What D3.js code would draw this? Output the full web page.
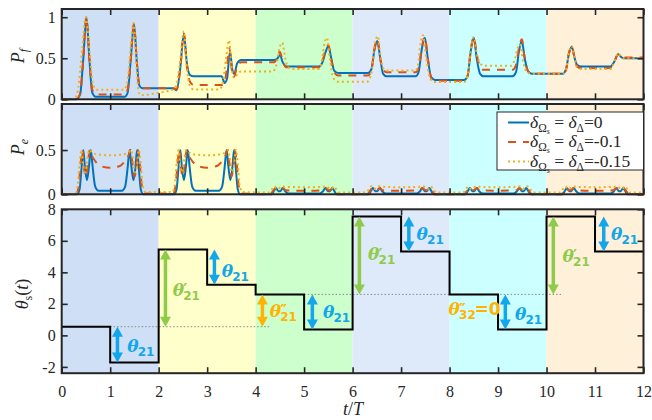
<!DOCTYPE html>
<html><head><meta charset="utf-8">
<script src="https://cdn.jsdelivr.net/npm/d3@7"></script>
<style>
body{margin:0;background:#fff}
svg text{font-family:"Liberation Serif","DejaVu Serif",serif;fill:#262626}
</style></head><body>
<svg width="652" height="420"></svg>
<script>
// ---- data ----
var xTicks = [0,1,2,3,4,5,6,7,8,9,10,11,12];
var bandStarts = [0,2,4,6,8,10];
var stepT = [0,1,2,3,4,5,6,7,8,9,10,11];
var thetaS = [0.55,-1.72,5.45,3.22,2.6,0.38,7.55,5.32,2.6,0.38,7.55,5.32];
var legendVals = ["0","-0.1","-0.15"];

// P_f, delta = 0
var pfA = [[0,0],[0.3,0],[0.38,0.06],[0.44,0.45],[0.51,1.0],[0.57,0.5],[0.63,0.08],[0.7,0.03],
 [1.3,0.03],[1.36,0.08],[1.42,0.45],[1.49,0.92],[1.55,0.45],[1.6,0.17],[1.66,0.135],
 [2.3,0.135],[2.37,0.11],[2.44,0.35],[2.52,0.8],[2.58,0.45],[2.64,0.3],[2.72,0.28],
 [3.3,0.28],[3.36,0.2],[3.41,0.25],[3.47,0.58],[3.52,0.36],[3.56,0.31],[3.62,0.44],[3.7,0.48],
 [4.38,0.48],[4.44,0.49],[4.5,0.54],[4.56,0.45],[4.64,0.4],
 [5.3,0.4],[5.37,0.44],[5.44,0.57],[5.5,0.645],[5.56,0.5],[5.62,0.35],[5.7,0.32],
 [6.32,0.32],[6.39,0.37],[6.45,0.6],[6.51,0.71],[6.57,0.5],[6.63,0.31],[6.7,0.28],
 [7.3,0.28],[7.36,0.33],[7.43,0.62],[7.49,0.75],[7.55,0.5],[7.62,0.27],[7.7,0.235],
 [8.3,0.235],[8.37,0.28],[8.44,0.6],[8.5,0.75],[8.56,0.5],[8.63,0.31],[8.7,0.28],
 [9.3,0.28],[9.37,0.33],[9.43,0.58],[9.49,0.71],[9.55,0.5],[9.62,0.34],[9.7,0.31],
 [10.33,0.31],[10.4,0.36],[10.46,0.55],[10.52,0.64],[10.58,0.5],[10.63,0.42],[10.7,0.4],
 [11.32,0.4],[11.38,0.44],[11.48,0.55],[11.53,0.52],[11.58,0.5],[12,0.5]];
// P_f, delta = -0.1
var pfB = [[0,0],[0.3,0],[0.38,0.07],[0.44,0.45],[0.51,1.0],[0.57,0.5],[0.63,0.12],[0.7,0.06],
 [1.3,0.06],[1.36,0.12],[1.42,0.45],[1.49,0.92],[1.55,0.45],[1.6,0.17],[1.66,0.135],
 [2.3,0.135],[2.37,0.12],[2.44,0.35],[2.52,0.8],[2.58,0.42],[2.64,0.22],[2.72,0.175],
 [3.3,0.175],[3.36,0.2],[3.41,0.4],[3.46,0.62],[3.51,0.35],[3.55,0.27],[3.62,0.4],[3.7,0.45],
 [4.38,0.45],[4.44,0.5],[4.5,0.58],[4.56,0.46],[4.64,0.39],
 [5.3,0.39],[5.37,0.44],[5.44,0.6],[5.5,0.66],[5.56,0.48],[5.62,0.33],[5.7,0.29],
 [6.32,0.29],[6.39,0.36],[6.45,0.62],[6.51,0.73],[6.57,0.5],[6.63,0.36],[6.7,0.33],
 [7.3,0.33],[7.36,0.38],[7.43,0.64],[7.49,0.76],[7.55,0.5],[7.62,0.26],[7.7,0.225],
 [8.3,0.225],[8.37,0.28],[8.44,0.62],[8.5,0.76],[8.56,0.55],[8.63,0.39],[8.7,0.36],
 [9.3,0.36],[9.37,0.42],[9.43,0.62],[9.49,0.73],[9.55,0.5],[9.62,0.34],[9.7,0.31],
 [10.33,0.31],[10.4,0.36],[10.46,0.56],[10.52,0.65],[10.58,0.5],[10.63,0.4],[10.7,0.38],
 [11.32,0.38],[11.38,0.43],[11.48,0.55],[11.53,0.53],[11.58,0.51],[12,0.51]];
// P_f, delta = -0.15
var pfC = [[0,0],[0.25,0],[0.33,0.1],[0.42,0.6],[0.5,1.0],[0.57,0.6],[0.64,0.2],[0.72,0.115],
 [1.28,0.115],[1.35,0.2],[1.42,0.6],[1.48,0.93],[1.54,0.45],[1.58,0.12],[1.63,0.05],
 [2.0,0.08],[2.3,0.12],[2.37,0.18],[2.44,0.45],[2.52,0.83],[2.58,0.4],[2.64,0.17],[2.72,0.12],
 [3.25,0.12],[3.32,0.2],[3.39,0.5],[3.45,0.72],[3.5,0.4],[3.56,0.26],[3.63,0.31],[3.7,0.34],
 [4.35,0.34],[4.42,0.4],[4.49,0.62],[4.55,0.69],[4.61,0.5],[4.67,0.39],[4.74,0.37],
 [5.3,0.37],[5.36,0.45],[5.42,0.68],[5.47,0.75],[5.53,0.5],[5.6,0.26],[5.7,0.215],
 [6.3,0.215],[6.38,0.3],[6.45,0.65],[6.52,0.77],[6.58,0.5],[6.63,0.38],[6.7,0.35],
 [7.3,0.35],[7.35,0.42],[7.4,0.68],[7.45,0.78],[7.52,0.5],[7.6,0.25],[7.7,0.21],
 [8.3,0.21],[8.37,0.28],[8.44,0.62],[8.5,0.76],[8.56,0.56],[8.64,0.43],[8.72,0.41],
 [9.28,0.41],[9.35,0.5],[9.41,0.63],[9.45,0.67],[9.52,0.45],[9.6,0.33],[9.7,0.31],
 [10.33,0.31],[10.4,0.36],[10.46,0.56],[10.52,0.65],[10.58,0.5],[10.63,0.39],[10.7,0.37],
 [11.32,0.37],[11.38,0.43],[11.48,0.56],[11.53,0.53],[11.58,0.5],[12,0.5]];

// P_e, delta = 0
var peA = [[0,0],[0.32,0],[0.37,0.06],[0.41,0.3],[0.445,0.5],[0.48,0.3],[0.52,0.16],[0.56,0.3],[0.6,0.5],[0.64,0.3],[0.69,0.09],[0.76,0.04],
 [1.24,0.04],[1.31,0.09],[1.36,0.3],[1.4,0.5],[1.44,0.3],[1.48,0.16],[1.52,0.3],[1.555,0.5],[1.59,0.3],[1.63,0.06],[1.68,0],
 [2.32,0],[2.37,0.06],[2.41,0.3],[2.445,0.5],[2.48,0.3],[2.52,0.16],[2.56,0.3],[2.6,0.5],[2.64,0.3],[2.69,0.09],[2.76,0.04],
 [3.24,0.04],[3.31,0.09],[3.36,0.3],[3.4,0.5],[3.44,0.3],[3.48,0.16],[3.52,0.3],[3.555,0.5],[3.59,0.3],[3.63,0.06],[3.68,0],
 [4.33,0],[4.38,0.04],[4.42,0.07],[4.47,0.035],[4.51,0.035],[4.56,0.07],[4.61,0.035],[4.68,0.01],
 [5.32,0.01],[5.39,0.035],[5.44,0.07],[5.49,0.035],[5.53,0.035],[5.58,0.07],[5.62,0.04],[5.67,0],
 [6.33,0],[6.38,0.04],[6.42,0.07],[6.47,0.035],[6.51,0.035],[6.56,0.07],[6.61,0.035],[6.68,0.01],
 [7.32,0.01],[7.39,0.035],[7.44,0.07],[7.49,0.035],[7.53,0.035],[7.58,0.07],[7.62,0.04],[7.67,0],
 [8.33,0],[8.38,0.04],[8.42,0.07],[8.47,0.035],[8.51,0.035],[8.56,0.07],[8.61,0.035],[8.68,0.01],
 [9.32,0.01],[9.39,0.035],[9.44,0.07],[9.49,0.035],[9.53,0.035],[9.58,0.07],[9.62,0.04],[9.67,0],
 [10.33,0],[10.38,0.04],[10.42,0.07],[10.47,0.035],[10.51,0.035],[10.56,0.07],[10.61,0.035],[10.68,0.01],
 [11.32,0.01],[11.39,0.035],[11.44,0.07],[11.49,0.035],[11.53,0.035],[11.58,0.07],[11.62,0.04],[11.67,0],[12,0]];
// P_e, delta = -0.1
var peB = [[0,0],[0.3,0],[0.35,0.1],[0.39,0.35],[0.425,0.5],[0.46,0.3],[0.5,0.2],[0.54,0.35],[0.58,0.5],[0.62,0.44],[0.7,0.37],[0.8,0.32],[1.0,0.3],
 [1.2,0.32],[1.3,0.37],[1.38,0.44],[1.42,0.5],[1.46,0.35],[1.5,0.2],[1.54,0.3],[1.575,0.5],[1.61,0.35],[1.65,0.1],[1.7,0.01],
 [2.3,0.01],[2.35,0.1],[2.39,0.35],[2.425,0.5],[2.46,0.3],[2.5,0.2],[2.54,0.35],[2.58,0.5],[2.62,0.44],[2.7,0.37],[2.8,0.32],[3.0,0.3],
 [3.2,0.32],[3.3,0.37],[3.38,0.44],[3.42,0.5],[3.46,0.35],[3.5,0.2],[3.54,0.3],[3.575,0.5],[3.61,0.35],[3.65,0.1],[3.7,0.01],
 [4.3,0],[4.36,0.04],[4.41,0.07],[4.46,0.045],[4.51,0.05],[4.56,0.07],[4.62,0.045],[5.0,0.04],[5.38,0.045],[5.44,0.07],[5.49,0.05],[5.54,0.045],[5.59,0.07],[5.64,0.04],[5.7,0],
 [6.3,0],[6.36,0.04],[6.41,0.07],[6.46,0.045],[6.51,0.05],[6.56,0.07],[6.62,0.045],[7.0,0.04],[7.38,0.045],[7.44,0.07],[7.49,0.05],[7.54,0.045],[7.59,0.07],[7.64,0.04],[7.7,0],
 [8.3,0],[8.36,0.04],[8.41,0.07],[8.46,0.045],[8.51,0.05],[8.56,0.07],[8.62,0.045],[9.0,0.04],[9.38,0.045],[9.44,0.07],[9.49,0.05],[9.54,0.045],[9.59,0.07],[9.64,0.04],[9.7,0],
 [10.3,0],[10.36,0.04],[10.41,0.07],[10.46,0.045],[10.51,0.05],[10.56,0.07],[10.62,0.045],[11.0,0.04],[11.38,0.045],[11.44,0.07],[11.49,0.05],[11.54,0.045],[11.59,0.07],[11.64,0.04],[11.7,0],[12,0]];
// P_e, delta = -0.15
var peC = [[0,0],[0.28,0],[0.33,0.1],[0.37,0.35],[0.41,0.5],[0.45,0.3],[0.49,0.25],[0.53,0.4],[0.57,0.5],[0.63,0.47],[0.75,0.45],[1.0,0.44],
 [1.25,0.45],[1.37,0.47],[1.43,0.5],[1.47,0.4],[1.51,0.25],[1.55,0.3],[1.59,0.5],[1.63,0.35],[1.67,0.1],[1.73,0.025],
 [2.28,0.025],[2.33,0.1],[2.37,0.35],[2.41,0.5],[2.45,0.3],[2.49,0.25],[2.53,0.4],[2.57,0.5],[2.63,0.47],[2.75,0.45],[3.0,0.44],
 [3.25,0.45],[3.37,0.47],[3.43,0.5],[3.47,0.4],[3.51,0.25],[3.55,0.3],[3.59,0.5],[3.63,0.35],[3.67,0.1],[3.73,0.025],
 [4.28,0.02],[4.34,0.06],[4.39,0.09],[4.44,0.06],[4.49,0.07],[4.54,0.09],[4.6,0.085],[5.0,0.08],[5.4,0.085],[5.46,0.09],[5.51,0.07],[5.56,0.06],[5.61,0.09],[5.66,0.06],[5.72,0.02],
 [6.28,0.02],[6.34,0.06],[6.39,0.09],[6.44,0.06],[6.49,0.07],[6.54,0.09],[6.6,0.085],[7.0,0.08],[7.4,0.085],[7.46,0.09],[7.51,0.07],[7.56,0.06],[7.61,0.09],[7.66,0.06],[7.72,0.02],
 [8.28,0.02],[8.34,0.06],[8.39,0.09],[8.44,0.06],[8.49,0.07],[8.54,0.09],[8.6,0.085],[9.0,0.08],[9.4,0.085],[9.46,0.09],[9.51,0.07],[9.56,0.06],[9.61,0.09],[9.66,0.06],[9.72,0.02],
 [10.28,0.02],[10.34,0.06],[10.39,0.09],[10.44,0.06],[10.49,0.07],[10.54,0.09],[10.6,0.085],[11.0,0.08],[11.4,0.085],[11.46,0.09],[11.51,0.07],[11.56,0.06],[11.61,0.09],[11.66,0.06],[11.72,0.02],[12,0.02]];

// arrows in the theta panel: t, from, to, kind, label t, label value, primes
var arrows = [
 [1.15, 0.55, -1.72, "b", 1.35, -0.73, 0],
 [2.14, 5.45, 0.55, "g", 2.29, 2.83, 1],
 [3.15, 5.45, 3.22, "b", 3.30, 4.03, 0],
 [4.14, 2.6, 0.55, "o", 4.29, 1.49, 2],
 [5.17, 2.6, 0.38, "b", 5.39, 1.39, 0],
 [6.14, 7.55, 2.6, "g", 6.32, 5.1, 1],
 [7.16, 7.55, 5.32, "b", 7.32, 6.37, 0],
 [9.15, 2.6, 0.38, "b", 9.35, 1.28, 0],
 [10.14, 7.55, 2.6, "g", 10.33, 4.99, 1],
 [11.18, 7.55, 5.32, "b", 11.33, 6.37, 0]
];
var refLines = [[0.55, 1, 4.3], [2.6, 5, 10.3]];

// ---- drawing ----
var bandColors = ["#cfe0f6","#ffffcc","#ccffcc","#dee9f9","#ccffff","#fff0da"];
var seriesColors = ["#0072bd","#d95319","#edb120"];
var seriesDash = [null,"8,7","2,3"];
var arrowColors = {b:"#12a6ea", g:"#8fcb4a", o:"#ffb300"};
var serif = "'Liberation Serif', 'DejaVu Serif', serif";

var svg = d3.select("svg");
var x = d3.scaleLinear().domain([0,12]).range([61.7,643.5]);
var yPf = d3.scaleLinear().domain([0,1.1]).range([99.3,9]);
var yPe = d3.scaleLinear().domain([0,1.02]).range([194.3,104]);
var yTh = d3.scaleLinear().domain([-2.4,8]).range([373.2,209.3]);

function panel(y) {
  var g = svg.append("g");
  var y0 = y.range()[0], y1 = y.range()[1];
  g.selectAll(".band").data(bandStarts).enter().append("rect")
    .attr("x", function (d) { return x(d); })
    .attr("y", y1)
    .attr("width", function (d) { return x(d + 2) - x(d); })
    .attr("height", y0 - y1)
    .attr("fill", function (d, i) { return bandColors[i]; });
  return g;
}
function axes(y, yTicks, showX) {
  var g = svg.append("g");
  var y0 = y.range()[0], y1 = y.range()[1];
  var fmt = function (d) { return String(d); };
  g.append("g").attr("transform", "translate(0," + y0 + ")")
    .call(d3.axisBottom(x).tickValues(xTicks).tickSize(-6).tickPadding(12).tickFormat(showX ? fmt : ""));
  g.append("g").attr("transform", "translate(0," + y1 + ")")
    .call(d3.axisTop(x).tickValues(xTicks).tickSize(-6).tickFormat(""));
  g.append("g").attr("transform", "translate(" + x(0) + ",0)")
    .call(d3.axisLeft(y).tickValues(yTicks).tickSize(-6).tickPadding(6).tickFormat(fmt));
  g.append("g").attr("transform", "translate(" + x(12) + ",0)")
    .call(d3.axisRight(y).tickValues(yTicks).tickSize(-6).tickFormat(""));
  g.selectAll("g").attr("font-family", serif);
  g.selectAll(".domain").remove();
  g.selectAll(".tick line").attr("stroke", "#262626").attr("stroke-width", 1.6);
  g.selectAll(".tick text").attr("font-size", 16).attr("fill", "#262626")
    .attr("font-family", serif).style("font-family", serif);
  g.append("rect").attr("x", x(0)).attr("y", y1).attr("width", x(12) - x(0)).attr("height", y0 - y1)
    .attr("fill", "none").attr("stroke", "#262626").attr("stroke-width", 2);
}
function curves(g, y, list) {
  var line = d3.line().x(function (d) { return x(d[0]); }).y(function (d) { return y(d[1]); })
    .curve(d3.curveMonotoneX);
  list.forEach(function (s, i) {
    g.append("path").attr("d", line(s)).attr("fill", "none")
      .attr("stroke", seriesColors[i]).attr("stroke-width", 2)
      .attr("stroke-dasharray", seriesDash[i]);
  });
}

var g1 = panel(yPf);
curves(g1, yPf, [pfA, pfB, pfC]);
axes(yPf, [0, 0.5, 1], false);

var g2 = panel(yPe);
curves(g2, yPe, [peA, peB, peC]);
axes(yPe, [0, 0.5], false);

var g3 = panel(yTh);
// dotted reference lines
g3.selectAll(".ref").data(refLines).enter().append("line")
  .attr("x1", function (d) { return x(d[1]); }).attr("x2", function (d) { return x(d[2]); })
  .attr("y1", function (d) { return yTh(d[0]); }).attr("y2", function (d) { return yTh(d[0]); })
  .attr("stroke", "#8a8a8a").attr("stroke-width", 1).attr("stroke-dasharray", "1.5,2");
var stepPts = stepT.map(function (t, i) { return [t, thetaS[i]]; });
stepPts.push([12, thetaS[thetaS.length - 1]]);
g3.append("path")
  .attr("d", d3.line().x(function (d) { return x(d[0]); }).y(function (d) { return yTh(d[1]); }).curve(d3.curveStepAfter)(stepPts))
  .attr("fill", "none").attr("stroke", "#000").attr("stroke-width", 2);

function thetaLabel(px, py, primes, sub, tail, color) {
  var t = g3.append("text").attr("x", px).attr("y", py).attr("font-weight", "bold")
    .style("fill", color).style("font-family", "'DejaVu Serif', serif");
  t.append("tspan").attr("font-size", 17).attr("font-style", "italic").text("θ");
  if (primes) {
    t.append("tspan").attr("x", px + 10.5).attr("y", py - 0.5).attr("font-size", 15)
      .style("font-family", "'DejaVu Sans', sans-serif").text(primes === 1 ? "′" : "″");
  }
  t.append("tspan").attr("x", px + 10.5).attr("y", py + 4).attr("font-size", 12)
    .style("font-family", "'DejaVu Sans', sans-serif").text(sub);
  if (tail) t.append("tspan").attr("x", px + 26).attr("y", py).attr("font-size", 17)
    .style("font-family", "'DejaVu Sans', sans-serif").text(tail);
}

arrows.forEach(function (a) {
  var c = arrowColors[a[3]];
  var X = x(a[0]), top = yTh(Math.max(a[1], a[2])), bot = yTh(Math.min(a[1], a[2]));
  g3.append("line").attr("x1", X).attr("x2", X).attr("y1", top + 8).attr("y2", bot - 8)
    .attr("stroke", c).attr("stroke-width", 3.5);
  g3.append("path").attr("d", "M" + X + "," + top + "L" + (X - 5.5) + "," + (top + 10) + "L" + (X + 5.5) + "," + (top + 10) + "Z").attr("fill", c);
  g3.append("path").attr("d", "M" + X + "," + bot + "L" + (X - 5.5) + "," + (bot - 10) + "L" + (X + 5.5) + "," + (bot - 10) + "Z").attr("fill", c);
  thetaLabel(x(a[4]), yTh(a[5]) + 5, a[6], "21", null, c);
});
thetaLabel(x(7.98), yTh(1.6) + 5, 2, "32", "=0", arrowColors.o);

axes(yTh, [-2, 0, 2, 4, 6, 8], true);

// legend
var lg = svg.append("g");
lg.append("rect").attr("x", 497).attr("y", 112).attr("width", 146.5).attr("height", 58)
  .attr("fill", "#fff").attr("stroke", "#262626").attr("stroke-width", 1);
legendVals.forEach(function (v, i) {
  var cy = 122.5 + i * 19.5;
  lg.append("line").attr("x1", 508).attr("x2", 529).attr("y1", cy).attr("y2", cy)
    .attr("stroke", seriesColors[i]).attr("stroke-width", 2).attr("stroke-dasharray", seriesDash[i]);
  var t = lg.append("text").attr("x", 530).attr("y", cy + 5).attr("font-size", 17.5);
  t.append("tspan").attr("font-style", "italic").text("δ");
  t.append("tspan").attr("font-size", 11.5).attr("dy", 4).text("Ω");
  t.append("tspan").attr("font-size", 8).attr("dy", 2).attr("font-style", "italic").text("s");
  t.append("tspan").attr("dy", -6).text(" = ");
  t.append("tspan").attr("font-style", "italic").text("δ");
  t.append("tspan").attr("font-size", 11.5).attr("dy", 4).text("Δ");
  t.append("tspan").attr("dy", -4).text("=" + v);
});

// axis titles
function yTitle(px, py, parts) {
  var t = svg.append("text").attr("transform", "translate(" + px + "," + py + ") rotate(-90)")
    .attr("text-anchor", "middle").attr("font-size", 18);
  parts.forEach(function (p) {
    var s = t.append("tspan").text(p[0]);
    if (p[1]) s.attr("font-style", "italic");
    if (p[2]) s.attr("font-size", p[2]);
    if (p[3]) s.attr("dy", p[3]);
  });
}
yTitle(24, 56, [["P", 1], ["f", 1, 12, 4]]);
yTitle(24, 147, [["P", 1], ["e", 1, 12, 4]]);
yTitle(28, 294, [["θ", 1], ["s", 0, 12, 4], ["(", 0, 18, -4], ["t", 1], [")", 0]]);
var xt = svg.append("text").attr("x", 353).attr("y", 415).attr("text-anchor", "middle").attr("font-size", 18);
xt.append("tspan").attr("font-style", "italic").text("t");
xt.append("tspan").text("/");
xt.append("tspan").attr("font-style", "italic").text("T");
</script></body></html>
